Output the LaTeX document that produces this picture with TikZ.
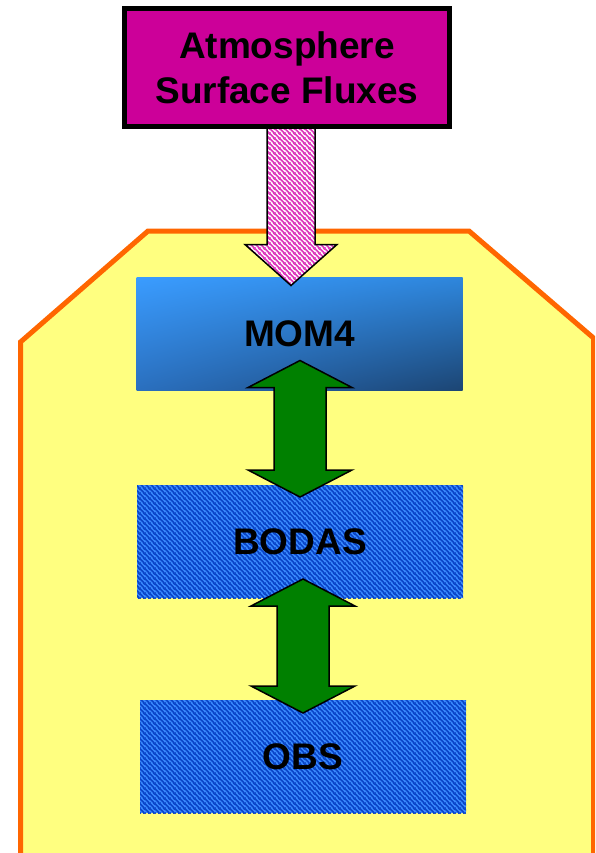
\documentclass[tikz,border=0pt]{standalone}
\usepackage{fontspec}
\setmainfont{Liberation Sans}
\usetikzlibrary{patterns.meta,calc,shadings}
\definecolor{magbox}{HTML}{CC0099}
\definecolor{pinkline}{HTML}{DD33BB}
\definecolor{yellowbg}{HTML}{FFFF80}
\definecolor{orangeedge}{HTML}{FF6600}
\definecolor{blueLight}{HTML}{3A8CFF}
\definecolor{blueDark}{HTML}{0A44C8}
\definecolor{greenarr}{HTML}{008000}
\definecolor{momUL}{HTML}{3A9CFF}
\definecolor{momUR}{HTML}{2E86DC}
\definecolor{momLL}{HTML}{2A6FBE}
\definecolor{momLR}{HTML}{1C4573}
\tikzdeclarepattern{
  name=diagstripes,
  type=uncolored,
  bounding box={(0pt,0pt) and (5pt,5pt)},
  tile size={(5pt,5pt)},
  code={
    \draw[line width=1.8pt,line cap=butt] (-1pt,6pt) -- (6pt,-1pt)
      (-1pt,1pt) -- (1pt,-1pt) (4pt,6pt) -- (6pt,4pt);
  }
}
\tikzset{
  lbl/.style={font=\bfseries\fontsize{37}{45}\selectfont, text=black, align=center},
  topbox/.style={draw=black, line width=5pt, fill=magbox, inner sep=0pt, outer sep=0pt,
    minimum width=325pt, minimum height=117.5pt, lbl},
  blubox/.style={inner sep=0pt, outer sep=0pt, minimum width=326pt, minimum height=113pt, lbl},
  hatchbox/.style={blubox, preaction={fill=blueLight}, pattern=diagstripes, pattern color=blueDark},
  pinkarrow/.style={draw=black, line width=1.5pt, line join=miter, preaction={fill=white},
    pattern=diagstripes, pattern color=pinkline},
  greenarrow/.style={draw=black, line width=1.5pt, line join=miter, fill=greenarr},
  hull/.style={draw=orangeedge, line width=5pt, fill=yellowbg}
}
\newcommand{\dblarrow}[2]{%
  \draw[greenarrow] (#1) -- ($(#1)+(52,27)$) -- ($(#1)+(26,27)$) -- ($(#2)+(26,-27)$)
    -- ($(#2)+(52,-27)$) -- (#2) -- ($(#2)+(-52,-27)$) -- ($(#2)+(-26,-27)$)
    -- ($(#1)+(-26,27)$) -- ($(#1)+(-52,27)$) -- cycle;}
\begin{document}
\begin{tikzpicture}[x=1pt,y=-1pt]
\useasboundingbox (0,0) rectangle (595,853);
\clip (0,0) rectangle (595,853);
% yellow hull
\draw[hull] (20.5,858) -- (20.5,342) -- (148,231) -- (469,231) -- (593.5,338) -- (593.5,858) -- cycle;
% boxes
\node[topbox] (atm) at (287,67.75) {Atmosphere\\Surface Fluxes};
\node[blubox, upper left=momUL, upper right=momUR, lower left=momLL, lower right=momLR] (mom) at (299.5,334) {MOM4};
\node[hatchbox] (bodas) at (300,541.5) {BODAS};
\node[hatchbox] (obs) at (303,756.5) {OBS};
% pink arrow
\coordinate (pa) at ($(atm.south)+(4,0)$);
\coordinate (pb) at ($(mom.north)+(-8.5,8)$);
\draw[pinkarrow] ($(pa)+(-24,0)$) -- ($(pa)+(24,0)$) -- ($(pb)+(24,-41)$) -- ($(pb)+(46,-41)$)
  -- (pb) -- ($(pb)+(-46,-41)$) -- ($(pb)+(-24,-41)$) -- cycle;
\draw[black, line width=5pt] (atm.south west) -- (atm.south east);
% green arrows
\coordinate (g1a) at ($(mom.south)+(0.5,-30)$);
\coordinate (g1b) at ($(bodas.north)+(0,12)$);
\coordinate (g2a) at ($(bodas.south)+(3,-19)$);
\coordinate (g2b) at ($(obs.north)+(0,13)$);
\dblarrow{g1a}{g1b}
\dblarrow{g2a}{g2b}
\end{tikzpicture}
\end{document}
